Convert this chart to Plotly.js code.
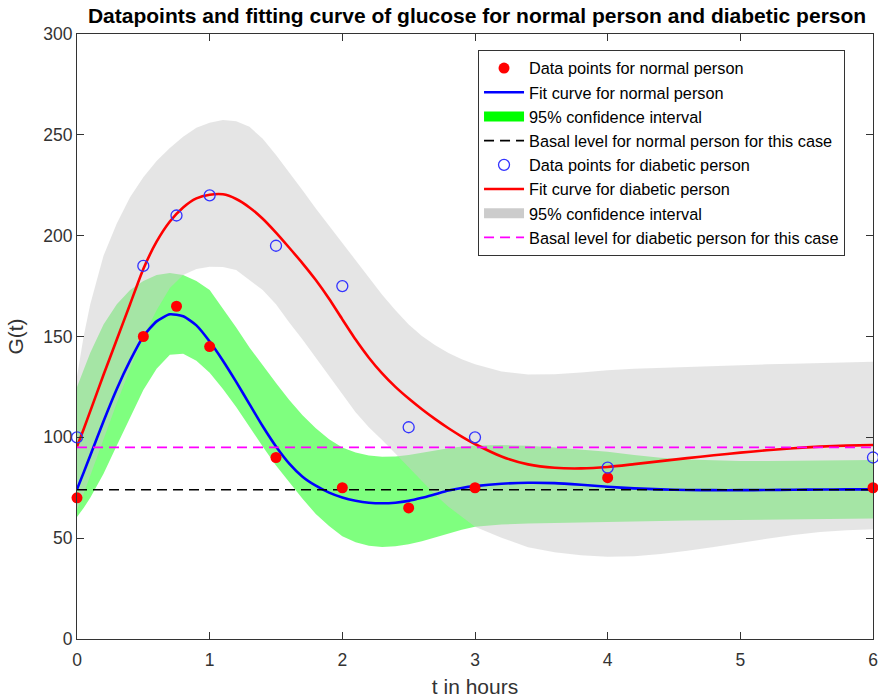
<!DOCTYPE html>
<html>
<head>
<meta charset="utf-8">
<script src="https://cdn.plot.ly/plotly-3.0.1.min.js"></script>
<style>html,body{margin:0;padding:0;background:#fff;}#chart{width:878px;height:698px;}</style>
</head>
<body>
<div id="chart"></div>
<script>
// Measured data
var tData = [0, 0.5, 0.75, 1, 1.5, 2, 2.5, 3, 4, 6];
var gNormal = [70, 150, 165, 145, 90, 75, 65, 75, 80, 75];
var gDiabetic = [100, 185, 210, 220, 195, 175, 105, 100, 85, 90];

// Fit curves and confidence bands sampled on a common time grid
var tFit = [0,0.05,0.1,0.2,0.3,0.4,0.5,0.6,0.7,0.8,0.9,1.0,
  1.1,1.2,1.3,1.4,1.5,1.6,1.7,1.8,1.9,2.0,2.1,2.2,2.3,2.4,2.5,2.6,2.7,2.8,2.9,3.0,
  3.2,3.4,3.6,3.8,4.0,4.2,4.4,4.6,4.8,5.0,5.2,5.4,5.6,5.8,6.0];
var fitNormal = [74.2,82.5,91,108,124,138,150,157.5,161,160,155.5,147.5,
  138,127.5,116.5,105.5,95.5,87,80.5,76,72.6,70.2,68.6,67.6,67.3,67.6,68.5,70,71.8,73.6,74.9,75.8,
  77,77.5,77.3,76.5,75.5,74.7,74.2,73.9,73.8,73.8,73.9,74,74.1,74.2,74.2];
var fitDiabetic = [95.4,104,113,131,148.5,166,183.5,197,207,214,218.5,220.3,
  220.5,218.2,214,208.4,201.5,194,186.3,178,168.7,158.5,148.5,139.5,131.7,125,119.2,113.9,109,104.5,100.4,96.7,
  90.5,86.6,84.9,84.6,85.3,86.7,88.2,89.7,91.1,92.4,93.6,94.6,95.4,95.9,96.2];
var ciNormalUpper = [125,134,142,156,166,173,177.5,180.5,181.5,180.5,177.5,173,
  164,154.5,144.5,135.5,127,118.5,111,104.5,99,95,92.5,91,90.4,90.5,91.2,92.3,93.5,94.6,95.4,96,
  96.2,95.8,95,94,92.8,91.3,89.9,89,88.5,88.3,88.3,88.4,88.5,88.7,88.8];
var ciNormalLower = [60.5,65,70,82,96,110,123.5,134,141,141.5,138,132,
  124,115,105.5,95.5,86,77.5,69.5,62,56,51,48,46.2,45.6,46,47,48.5,50.3,52.3,54.2,55.7,
  56.8,57.3,57.6,57.9,58.2,58.4,58.5,58.7,58.9,59.1,59.3,59.4,59.6,59.7,59.8];
var ciDiabeticUpper = [130,150,166,190,206,219,229,237,243.5,249,253.5,256,
  257.4,256.7,254,248,240,231.5,222.5,213.5,205,196.5,187.8,179,170.7,163,156,150.3,145.6,141.8,138.7,136.2,
  132.6,131.2,131.3,132.2,133.3,134,134.5,135,135.4,135.8,136.2,136.5,136.9,137.2,137.5];
var ciDiabeticLower = [64,72,80,99,117,134,150,163,174,180.5,183.5,184.6,
  184.5,183,178,173,166,157,148.5,140,131,121.5,112.5,105,98.7,92,85.5,78.5,71.5,65.6,60.5,55.7,
  50.2,45.5,43,41.5,40.8,41,42.2,43.8,45.6,47.5,49.7,51.6,53,53.9,54.4];

var basalNormal = 74;
var basalDiabetic = 95;
var tRange = [0, 6];

var legendNames = [
  'Data points for normal person',
  'Fit curve for normal person',
  '95% confidence interval',
  'Basal level for normal person for this case',
  'Data points for diabetic person',
  'Fit curve for diabetic person',
  '95% confidence interval',
  'Basal level for diabetic person for this case'
];

function band(upper, lower) {
  return {
    x: tFit.concat(tFit.slice().reverse()),
    y: upper.concat(lower.slice().reverse())
  };
}
var gBand = band(ciNormalUpper, ciNormalLower);
var dBand = band(ciDiabeticUpper, ciDiabeticLower);

var traces = [
  {x: gBand.x, y: gBand.y, type: 'scatter', mode: 'lines', fill: 'toself',
   fillcolor: 'rgba(0,255,0,0.5)', line: {width: 0}, showlegend: false, hoverinfo: 'skip'},
  {x: dBand.x, y: dBand.y, type: 'scatter', mode: 'lines', fill: 'toself',
   fillcolor: 'rgba(204,204,204,0.5)', line: {width: 0}, showlegend: false, hoverinfo: 'skip'},
  {x: tFit, y: fitNormal, type: 'scatter', mode: 'lines', name: legendNames[1], legendrank: 2,
   line: {color: '#0000ff', width: 2.6, shape: 'spline', smoothing: 0.6}},
  {x: tRange, y: tRange.map(function(){return basalNormal;}), type: 'scatter', mode: 'lines', name: legendNames[3], legendrank: 4,
   line: {color: '#000000', width: 1.6, dash: '10px,6px'}},
  {x: tFit, y: fitDiabetic, type: 'scatter', mode: 'lines', name: legendNames[5], legendrank: 6,
   line: {color: '#ff0000', width: 2.6, shape: 'spline', smoothing: 0.6}},
  {x: tRange, y: tRange.map(function(){return basalDiabetic;}), type: 'scatter', mode: 'lines', name: legendNames[7], legendrank: 8,
   line: {color: '#ff00ff', width: 1.6, dash: '10px,6px'}},
  {x: tData, y: gNormal, type: 'scatter', mode: 'markers', name: legendNames[0], legendrank: 1,
   marker: {color: '#ff0000', size: 11, symbol: 'circle'}, cliponaxis: false},
  {x: tData, y: gDiabetic, type: 'scatter', mode: 'markers', name: legendNames[4], legendrank: 5,
   marker: {color: '#3333ff', size: 11, symbol: 'circle-open', line: {width: 1.3, color: '#3333ff'}}, cliponaxis: false},
  {x: [null], y: [null], type: 'scatter', mode: 'lines', name: legendNames[2], legendrank: 3,
   line: {color: '#00ff00', width: 12}},
  {x: [null], y: [null], type: 'scatter', mode: 'lines', name: legendNames[6], legendrank: 7,
   line: {color: '#cccccc', width: 12}}
];

var FONT = 'Liberation Sans, Arial, Helvetica, sans-serif';
var axisCommon = {
  showgrid: false, zeroline: false, showline: true, linecolor: '#333333', linewidth: 1,
  mirror: 'ticks', ticks: 'inside', ticklen: 7, tickwidth: 1, tickcolor: '#333333',
  tickfont: {family: FONT, size: 17.5, color: '#333333'}
};

var layout = {
  width: 878, height: 698,
  margin: {l: 77, r: 5, t: 34, b: 59},
  paper_bgcolor: '#ffffff', plot_bgcolor: '#ffffff',
  font: {family: FONT, color: '#262626'},
  title: {text: '<b>Datapoints and fitting curve of glucose for normal person and diabetic person</b>',
    font: {family: FONT, size: 21, color: '#000000'}, x: 0.5433, xanchor: 'center',
    y: 0.977, yanchor: 'middle'},
  xaxis: Object.assign({}, axisCommon, {range: [0, 6], dtick: 1, tick0: 0, ticklabelstandoff: 5,
    title: {text: 't in hours', font: {family: FONT, size: 21, color: '#333333'}, standoff: 11}}),
  yaxis: Object.assign({}, axisCommon, {range: [0, 300], dtick: 50, tick0: 0,
    title: {text: 'G(t)', font: {family: FONT, size: 21, color: '#333333'}, standoff: 13}}),
  showlegend: true,
  legend: {x: 0.5038, y: 0.9736, xanchor: 'left', yanchor: 'top',
    bgcolor: '#ffffff', bordercolor: '#333333', borderwidth: 1,
    font: {family: FONT, size: 16.3, color: '#000000'}, itemwidth: 40, traceorder: 'normal'}
};

Plotly.newPlot('chart', traces, layout, {displayModeBar: false, staticPlot: true});
</script>
</body>
</html>
